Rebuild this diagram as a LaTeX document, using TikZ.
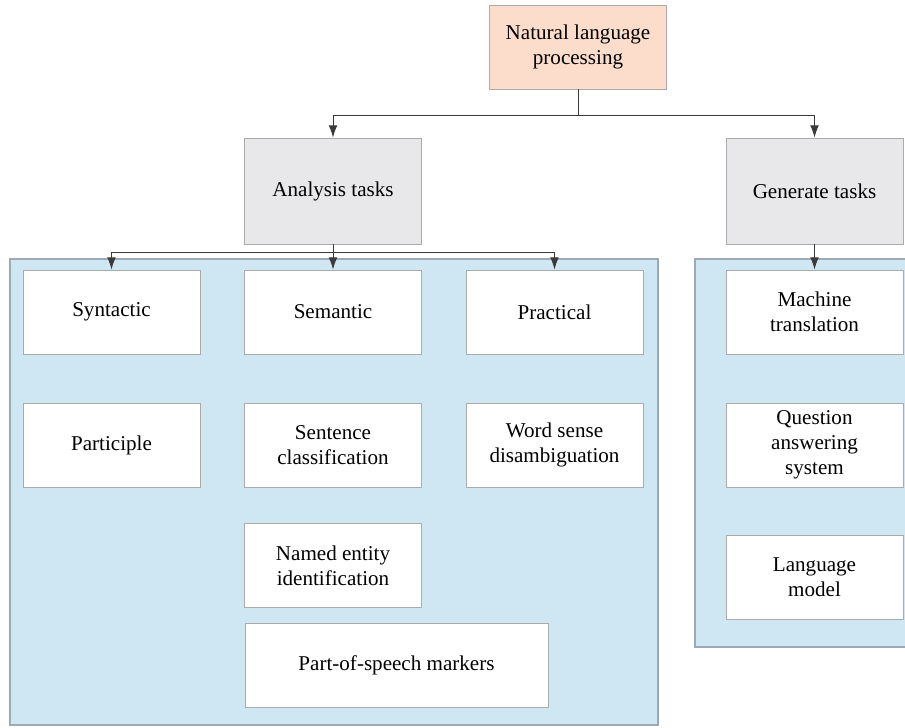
\documentclass[tikz,border=0pt]{standalone}
\usepackage{fontspec}
\setmainfont{Liberation Serif}
\usetikzlibrary{arrows.meta}

\definecolor{peach}{HTML}{FCDDCB}
\definecolor{taskgray}{HTML}{E8E8EA}
\definecolor{panelblue}{HTML}{CFE6F3}
\definecolor{boxline}{HTML}{ABABAB}
\definecolor{panelline}{HTML}{9DAAB5}
\definecolor{arrowline}{HTML}{3A3A3A}

\tikzset{
  box/.style={draw=boxline, line width=0.5pt, fill=white, align=center,
    minimum width=3.54cm, minimum height=1.68cm, inner sep=2pt,
    font=\fontsize{12}{14.2}\selectfont},
  taskbox/.style={box, fill=taskgray, minimum height=2.12cm},
  link/.style={draw=arrowline, line width=0.55pt, -{Latex[length=7pt,width=5pt]}}
}

\begin{document}
\begin{tikzpicture}[x=0.02cm, y=-0.02cm]
\useasboundingbox (0,0) rectangle (905,727);
% panels behind the task boxes
\draw[fill=panelblue, draw=panelline, line width=0.6pt] (10,259) rectangle (658,725);
\draw[fill=panelblue, draw=panelline, line width=0.6pt] (695,259) rectangle (915,647);

\node[box, fill=peach] (nlp) at (578,47) {Natural language\\processing};
\node[taskbox] (analysis) at (333,191) {Analysis tasks};
\node[taskbox] (generate) at (814.5,191) {Generate tasks};

% analysis tasks
\node[box] (syntactic) at (111.5,312) {Syntactic};
\node[box] (semantic) at (333,312) {Semantic};
\node[box] (practical) at (554.5,312) {Practical};
\node[box] (participle) at (111.5,445) {Participle};
\node[box] (sentence) at (333,445) {Sentence\\classification};
\node[box] (wsd) at (554.5,445) {Word sense\\disambiguation};
\node[box] (ner) at (333,565.5) {Named entity\\identification};
\node[box, minimum width=6.06cm] (pos) at (396.5,665.5) {Part-of-speech markers};

% generate tasks
\node[box] (mt) at (814.5,312) {Machine\\translation};
\node[box] (qa) at (814.5,445) {Question\\answering\\system};
\node[box] (lm) at (814.5,577.5) {Language\\model};

% connectors
\coordinate (split) at (578,115);
\draw[link] (nlp.south) -- (split) -| (analysis.north);
\draw[link] (split) -| (generate.north);
\coordinate (fork) at (333,252);
\draw[link] (analysis.south) -- (fork) -| (syntactic.north);
\draw[link] (fork) -- (semantic.north);
\draw[link] (fork) -| (practical.north);
\draw[link] (generate.south) -- (mt.north);
\end{tikzpicture}
\end{document}
